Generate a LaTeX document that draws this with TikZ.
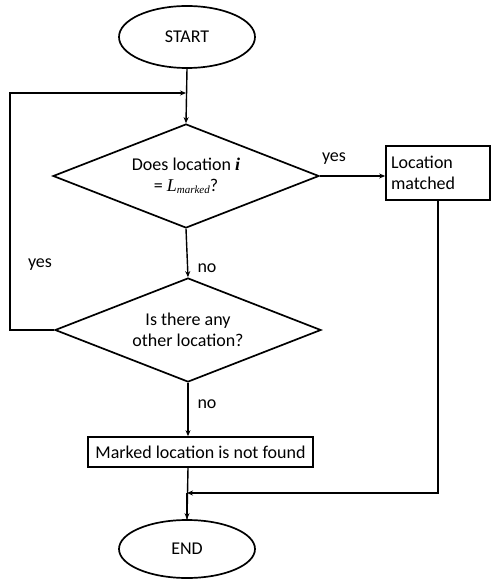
\documentclass[tikz,border=0pt]{standalone}
\usepackage{fontspec}
\setmainfont{Carlito}
\newfontfamily\serifit{Liberation Serif}
\usetikzlibrary{shapes.geometric,arrows.meta}
\begin{document}
\begin{tikzpicture}[x=1pt,y=-1pt,
  shapeline/.style={draw=black,line width=1.7pt},
  term/.style={shapeline,ellipse,minimum width=136pt,minimum height=62pt,inner sep=0pt,font=\fontsize{18}{20}\selectfont},
  decide/.style={shapeline,diamond,minimum width=266pt,minimum height=104pt,inner sep=0pt},
  dtext/.style={align=center,inner sep=0pt,font=\fontsize{18}{21}\selectfont},
  procbox/.style={shapeline,rectangle,inner sep=0pt,font=\fontsize{18}{21}\selectfont},
  conn/.style={draw=black,line width=1.4pt},
  arr/.style={conn,-{Stealth[length=6pt,width=5pt]}},
  lbl/.style={font=\fontsize{18}{20}\selectfont,inner sep=0pt}]
\useasboundingbox (0,0) rectangle (491,580);
\node[term] (start) at (187,37) {START};
\node[decide,label={[dtext]center:{Does location {\serifit\bfseries\itshape i}\\= {\serifit\itshape L\raisebox{-0.25ex}{\fontsize{11}{12}\selectfont marked}}?}}] (d1) at (186,176) {};
\node[decide,label={[dtext]center:{Is there any\\other location?}}] (d2) at (188,330) {};
\node[procbox,minimum width=104pt,minimum height=54pt,text width=94pt,align=left] (b1) at (438,173) {Location\\matched};
\node[procbox,minimum width=225pt,minimum height=30pt] (b2) at (200.5,452) {Marked location is not found};
\node[term,minimum height=58pt] (end) at (187,549) {END};
\coordinate (j1) at (186,93);
\coordinate (l1) at (10,330);
\coordinate (l2) at (10,93);
\coordinate (j2) at (187,493);
\coordinate (r1) at (438,493);
\draw[arr] (start.south) -- (d1.north);
\draw[arr] (d2.west) -- (l1) -- (l2) -- (j1);
\draw[arr] (d1.east) -- (d1.east -| b1.west);
\draw[arr] (d1.south) -- (d2.north);
\draw[arr] (d2.south) -- (d2.south |- b2.north);
\draw[conn] (d2.south |- b2.south) -- (end.north);
\draw[arr] (b1.south) -- (r1) -- (j2);
\draw[arr] (j2) -- (end.north);
\node[lbl] at (334,159) {yes};
\node[lbl] at (40,265) {yes};
\node[lbl] at (207,268) {no};
\node[lbl] at (207,404) {no};
\end{tikzpicture}
\end{document}
